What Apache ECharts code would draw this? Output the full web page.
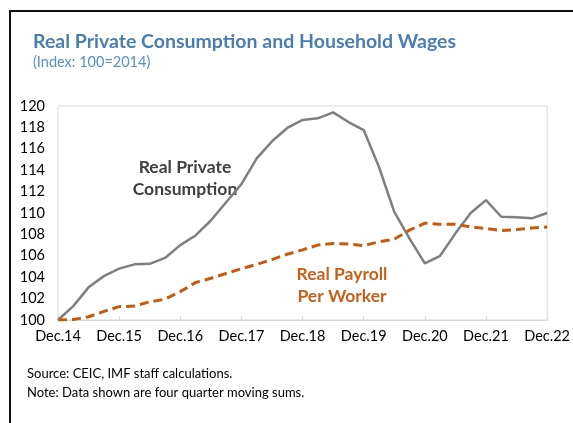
<!DOCTYPE html>
<html style="height: 100%">
<head>
    <meta charset="utf-8">
</head>
<body style="height: 100%; margin: 0; background: #fff">
<div id="container" style="width: 573px; height: 423px"></div>
<script src="https://cdn.jsdelivr.net/npm/echarts@6/dist/echarts.min.js"></script>
<script type="text/javascript">
    // quarterly, Dec.14 .. Dec.22
    var quarters = [];
    var years = ['14', '15', '16', '17', '18', '19', '20', '21', '22'];
    var qNames = ['Mar.', 'Jun.', 'Sep.', 'Dec.'];
    quarters.push('Dec.14');
    for (var y = 1; y < years.length; y++) {
        for (var q = 0; q < 4; q++) {
            quarters.push(qNames[q] + years[y]);
        }
    }

    var consumption = [100, 101.3, 103.05, 104.1, 104.8, 105.2, 105.25, 105.8, 107.0, 107.9,
        109.3, 111.0, 112.7, 115.1, 116.7, 117.95, 118.7, 118.85, 119.4, 118.5,
        117.75, 114.3, 110.1, 107.6, 105.3, 106.0, 108.1, 110.0, 111.2, 109.65,
        109.6, 109.5, 110.0];
    var payroll = [100, 100.05, 100.3, 100.8, 101.25, 101.3, 101.7, 101.95, 102.65, 103.5,
        103.9, 104.35, 104.8, 105.2, 105.65, 106.15, 106.55, 107.0, 107.15, 107.1,
        106.95, 107.3, 107.55, 108.4, 109.05, 108.95, 108.95, 108.7, 108.55, 108.35,
        108.45, 108.6, 108.7];

    var dom = document.getElementById("container");
    var myChart = echarts.init(dom);
    var font = 'Lato';

    var option = {
        animation: false,
        textStyle: { fontFamily: font },
        title: {
            text: 'Real Private Consumption and Household Wages',
            subtext: '(Index: 100=2014)',
            left: 28,
            top: 27,
            itemGap: 3,
            textStyle: { fontSize: 19.5, fontWeight: 'bold', color: '#4a7eb2', fontFamily: font },
            subtextStyle: { fontSize: 14.5, color: '#5b8fc4', fontFamily: font }
        },
        grid: {
            left: 58, right: 18, top: 106, bottom: 103,
            show: true,
            borderColor: '#d9d9d9',
            borderWidth: 1
        },
        xAxis: {
            type: 'category',
            data: quarters,
            boundaryGap: false,
            axisLine: { lineStyle: { color: '#d9d9d9' } },
            axisTick: { inside: true, length: 4, interval: 3, lineStyle: { color: '#d9d9d9' } },
            axisLabel: { interval: 3, color: '#000', fontSize: 14.5, margin: 9, fontFamily: font },
            splitLine: { show: false }
        },
        yAxis: {
            type: 'value',
            min: 100,
            max: 120,
            interval: 2,
            axisLine: { show: false },
            axisTick: { show: false },
            axisLabel: { color: '#000', fontSize: 14.5, margin: 13, fontFamily: font },
            splitLine: { show: false }
        },
        series: [
            {
                name: 'Real Private Consumption',
                type: 'line',
                data: consumption,
                symbol: 'none',
                lineStyle: { color: '#7f7f7f', width: 2.5 }
            },
            {
                name: 'Real Payroll Per Worker',
                type: 'line',
                data: payroll,
                symbol: 'none',
                lineStyle: { color: '#c55a11', width: 3, type: [9, 5] }
            }
        ],
        graphic: [
            {
                type: 'polyline',
                shape: { points: [[10, 423], [10, 11], [573, 11]] },
                style: { stroke: '#111', lineWidth: 2, fill: null }
            },
            {
                type: 'text',
                style: {
                    x: 185, y: 178, text: 'Real Private\nConsumption',
                    align: 'center', verticalAlign: 'middle', lineHeight: 22,
                    font: 'bold 17.5px Lato', fill: '#404040'
                }
            },
            {
                type: 'text',
                style: {
                    x: 342, y: 285, text: 'Real Payroll\nPer Worker',
                    align: 'center', verticalAlign: 'middle', lineHeight: 22,
                    font: 'bold 17.5px Lato', fill: '#c8601a'
                }
            },
            {
                type: 'text',
                style: {
                    x: 27, y: 374, text: 'Source: CEIC, IMF staff calculations.',
                    verticalAlign: 'middle', font: '13px Lato', fill: '#000'
                }
            },
            {
                type: 'text',
                style: {
                    x: 27, y: 393, text: 'Note: Data shown are four quarter moving sums.',
                    verticalAlign: 'middle', font: '13px Lato', fill: '#000'
                }
            }
        ]
    };

    myChart.setOption(option);
</script>
</body>
</html>
